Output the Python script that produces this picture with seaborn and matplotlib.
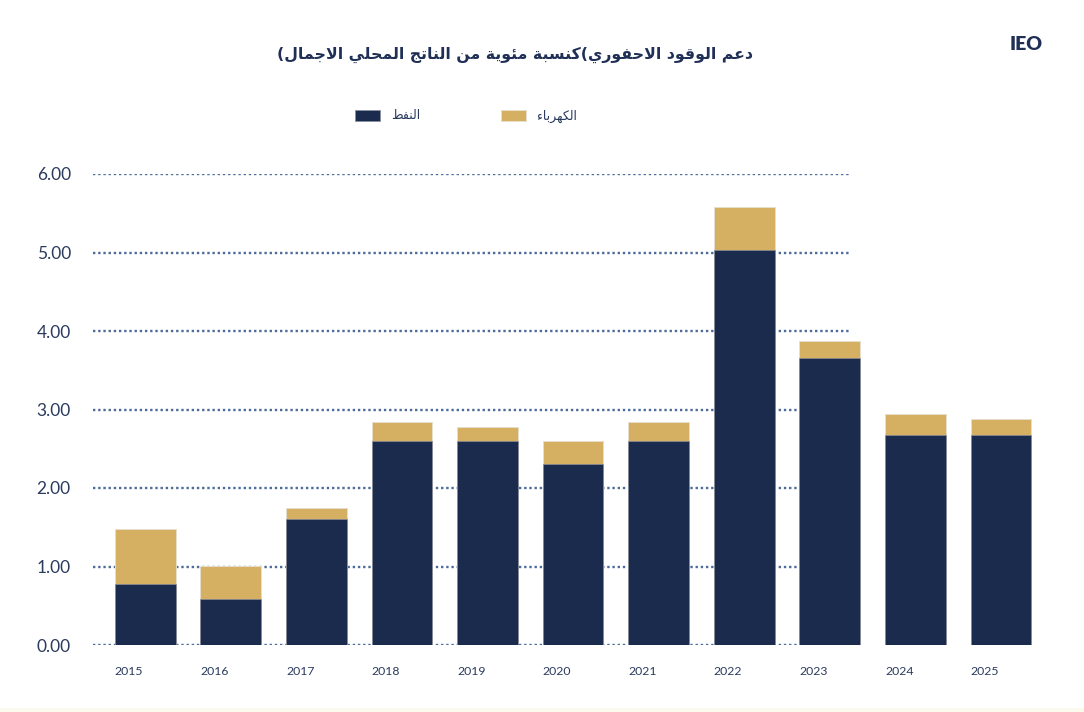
import matplotlib
matplotlib.use("Agg")
import matplotlib.pyplot as plt
import matplotlib.patches as mpatches
import seaborn as sns
import pandas as pd

# data
years = ["2015", "2016", "2017", "2018", "2019", "2020", "2021", "2022", "2023", "2024", "2025"]
oil = [0.78, 0.59, 1.60, 2.60, 2.60, 2.30, 2.60, 5.03, 3.66, 2.68, 2.68]
electricity = [0.70, 0.42, 0.15, 0.24, 0.18, 0.30, 0.24, 0.55, 0.21, 0.26, 0.20]
y_ticks = [0, 1, 2, 3, 4, 5, 6]

# brackets kept as they show in the picture
title_ar = "دعم الوقود الاحفوري(كنسبة مئوية من الناتج المحلي الاجمال("
label_oil = "النفط"
label_elec = "الكهرباء"

NAVY = "#1b2b4e"
GOLD = "#d5b062"
TEXT = "#2b3b5e"
GRID = "#4d6b9a"
BAR_W = 0.71

# matplotlib has no arabic shaping: pick presentation forms and reverse
FORMS = {
    "\u0621": ("\uFE80",),
    "\u0626": ("\uFE89", "\uFE8A", "\uFE8B", "\uFE8C"),
    "\u0627": ("\uFE8D", "\uFE8E"),
    "\u0628": ("\uFE8F", "\uFE90", "\uFE91", "\uFE92"),
    "\u0629": ("\uFE93", "\uFE94"),
    "\u062A": ("\uFE95", "\uFE96", "\uFE97", "\uFE98"),
    "\u062C": ("\uFE9D", "\uFE9E", "\uFE9F", "\uFEA0"),
    "\u062D": ("\uFEA1", "\uFEA2", "\uFEA3", "\uFEA4"),
    "\u062F": ("\uFEA9", "\uFEAA"),
    "\u0631": ("\uFEAD", "\uFEAE"),
    "\u0633": ("\uFEB1", "\uFEB2", "\uFEB3", "\uFEB4"),
    "\u0637": ("\uFEC1", "\uFEC2", "\uFEC3", "\uFEC4"),
    "\u0639": ("\uFEC9", "\uFECA", "\uFECB", "\uFECC"),
    "\u0641": ("\uFED1", "\uFED2", "\uFED3", "\uFED4"),
    "\u0642": ("\uFED5", "\uFED6", "\uFED7", "\uFED8"),
    "\u0643": ("\uFED9", "\uFEDA", "\uFEDB", "\uFEDC"),
    "\u0644": ("\uFEDD", "\uFEDE", "\uFEDF", "\uFEE0"),
    "\u0645": ("\uFEE1", "\uFEE2", "\uFEE3", "\uFEE4"),
    "\u0646": ("\uFEE5", "\uFEE6", "\uFEE7", "\uFEE8"),
    "\u0647": ("\uFEE9", "\uFEEA", "\uFEEB", "\uFEEC"),
    "\u0648": ("\uFEED", "\uFEEE"),
    "\u064A": ("\uFEF1", "\uFEF2", "\uFEF3", "\uFEF4"),
    "LA": ("\uFEFB", "\uFEFC"),
}


def shape_ar(text):
    tokens = []
    i = 0
    while i < len(text):
        if text[i] == "\u0644" and i + 1 < len(text) and text[i + 1] == "\u0627":
            tokens.append("LA")
            i += 2
        else:
            tokens.append(text[i])
            i += 1
    out = []
    for i, t in enumerate(tokens):
        forms = FORMS.get(t)
        if forms is None:
            out.append(t)
            continue
        prev = tokens[i - 1] if i > 0 else None
        nxt = tokens[i + 1] if i + 1 < len(tokens) else None
        j_prev = len(forms) > 1 and prev in FORMS and len(FORMS[prev]) == 4
        j_next = len(forms) == 4 and nxt in FORMS and len(FORMS[nxt]) > 1
        if j_prev and j_next:
            out.append(forms[3])
        elif j_prev:
            out.append(forms[1])
        elif j_next:
            out.append(forms[2])
        else:
            out.append(forms[0])
    return "".join(reversed(out))


df = pd.DataFrame({"year": years, "oil": oil, "electricity": electricity})
df["total"] = df["oil"] + df["electricity"]

sns.set_style("white")
plt.rcParams["font.family"] = ["Lato", "DejaVu Sans"]

fig = plt.figure(figsize=(10.84, 7.12), dpi=100)
ax = fig.add_axes([93 / 1084, 1 - 645 / 712, 967 / 1084, 471 / 712])

# dotted grid, stopping short of the last bars like the reference
ax.hlines(y_ticks, -0.61, 8.24, colors=GRID, linestyles=(0, (1, 1.2)), linewidth=1.7, zorder=0)

sns.barplot(data=df, x="year", y="total", color=GOLD, width=BAR_W, saturation=1,
            edgecolor="#e6dfcc", linewidth=0.7, label=shape_ar(label_elec), ax=ax, zorder=2)
sns.barplot(data=df, x="year", y="oil", color=NAVY, width=BAR_W, saturation=1,
            edgecolor="#8a8f9c", linewidth=0.5, label=shape_ar(label_oil), ax=ax, zorder=3)

ax.set_xlim(-0.61, 10.69)
ax.set_ylim(0, 6)
ax.set_yticks(y_ticks)
ax.set_yticklabels([f"{v:.2f}" for v in y_ticks])
# year labels sit flush with the left edge of each bar
ax.set_xticks([i - BAR_W / 2 for i in range(len(years))])
ax.set_xticklabels(years, ha="left")
ax.set_xlabel("")
ax.set_ylabel("")
sns.despine(ax=ax, left=True, bottom=True)
ax.tick_params(axis="y", length=0, pad=16, labelsize=12.5, labelcolor=TEXT)
ax.tick_params(axis="x", length=0, pad=15, labelsize=8.8, labelcolor=TEXT)

handles, labels = ax.get_legend_handles_labels()
order = [1, 0]
if ax.get_legend() is not None:
    ax.get_legend().remove()
fig.legend([handles[i] for i in order], [labels[i] for i in order],
           loc="center", bbox_to_anchor=(466 / 1084, 1 - 116 / 712), ncol=2,
           frameon=False, columnspacing=6.5, handlelength=2.0, handleheight=1.0,
           handletextpad=0.9, prop={"family": ["DejaVu Sans"], "size": 9},
           labelcolor=TEXT)

fig.text(515 / 1084, 1 - 55 / 712, shape_ar(title_ar), ha="center", va="center",
         fontsize=11.3, fontweight="bold", color="#1f2f55", family=["DejaVu Sans"])
fig.text(1026 / 1084, 1 - 44 / 712, "IEO", ha="center", va="center",
         fontsize=14, fontweight="heavy", color="#1f2f55", family=["Lato", "DejaVu Sans"])

# faint cream strip at the bottom edge
fig.patches.append(mpatches.Rectangle((0, 0), 1, 4 / 712, transform=fig.transFigure,
                                      facecolor="#fcf9ef", edgecolor="none", zorder=0))

fig.savefig("out.png", dpi=100, facecolor="white")
